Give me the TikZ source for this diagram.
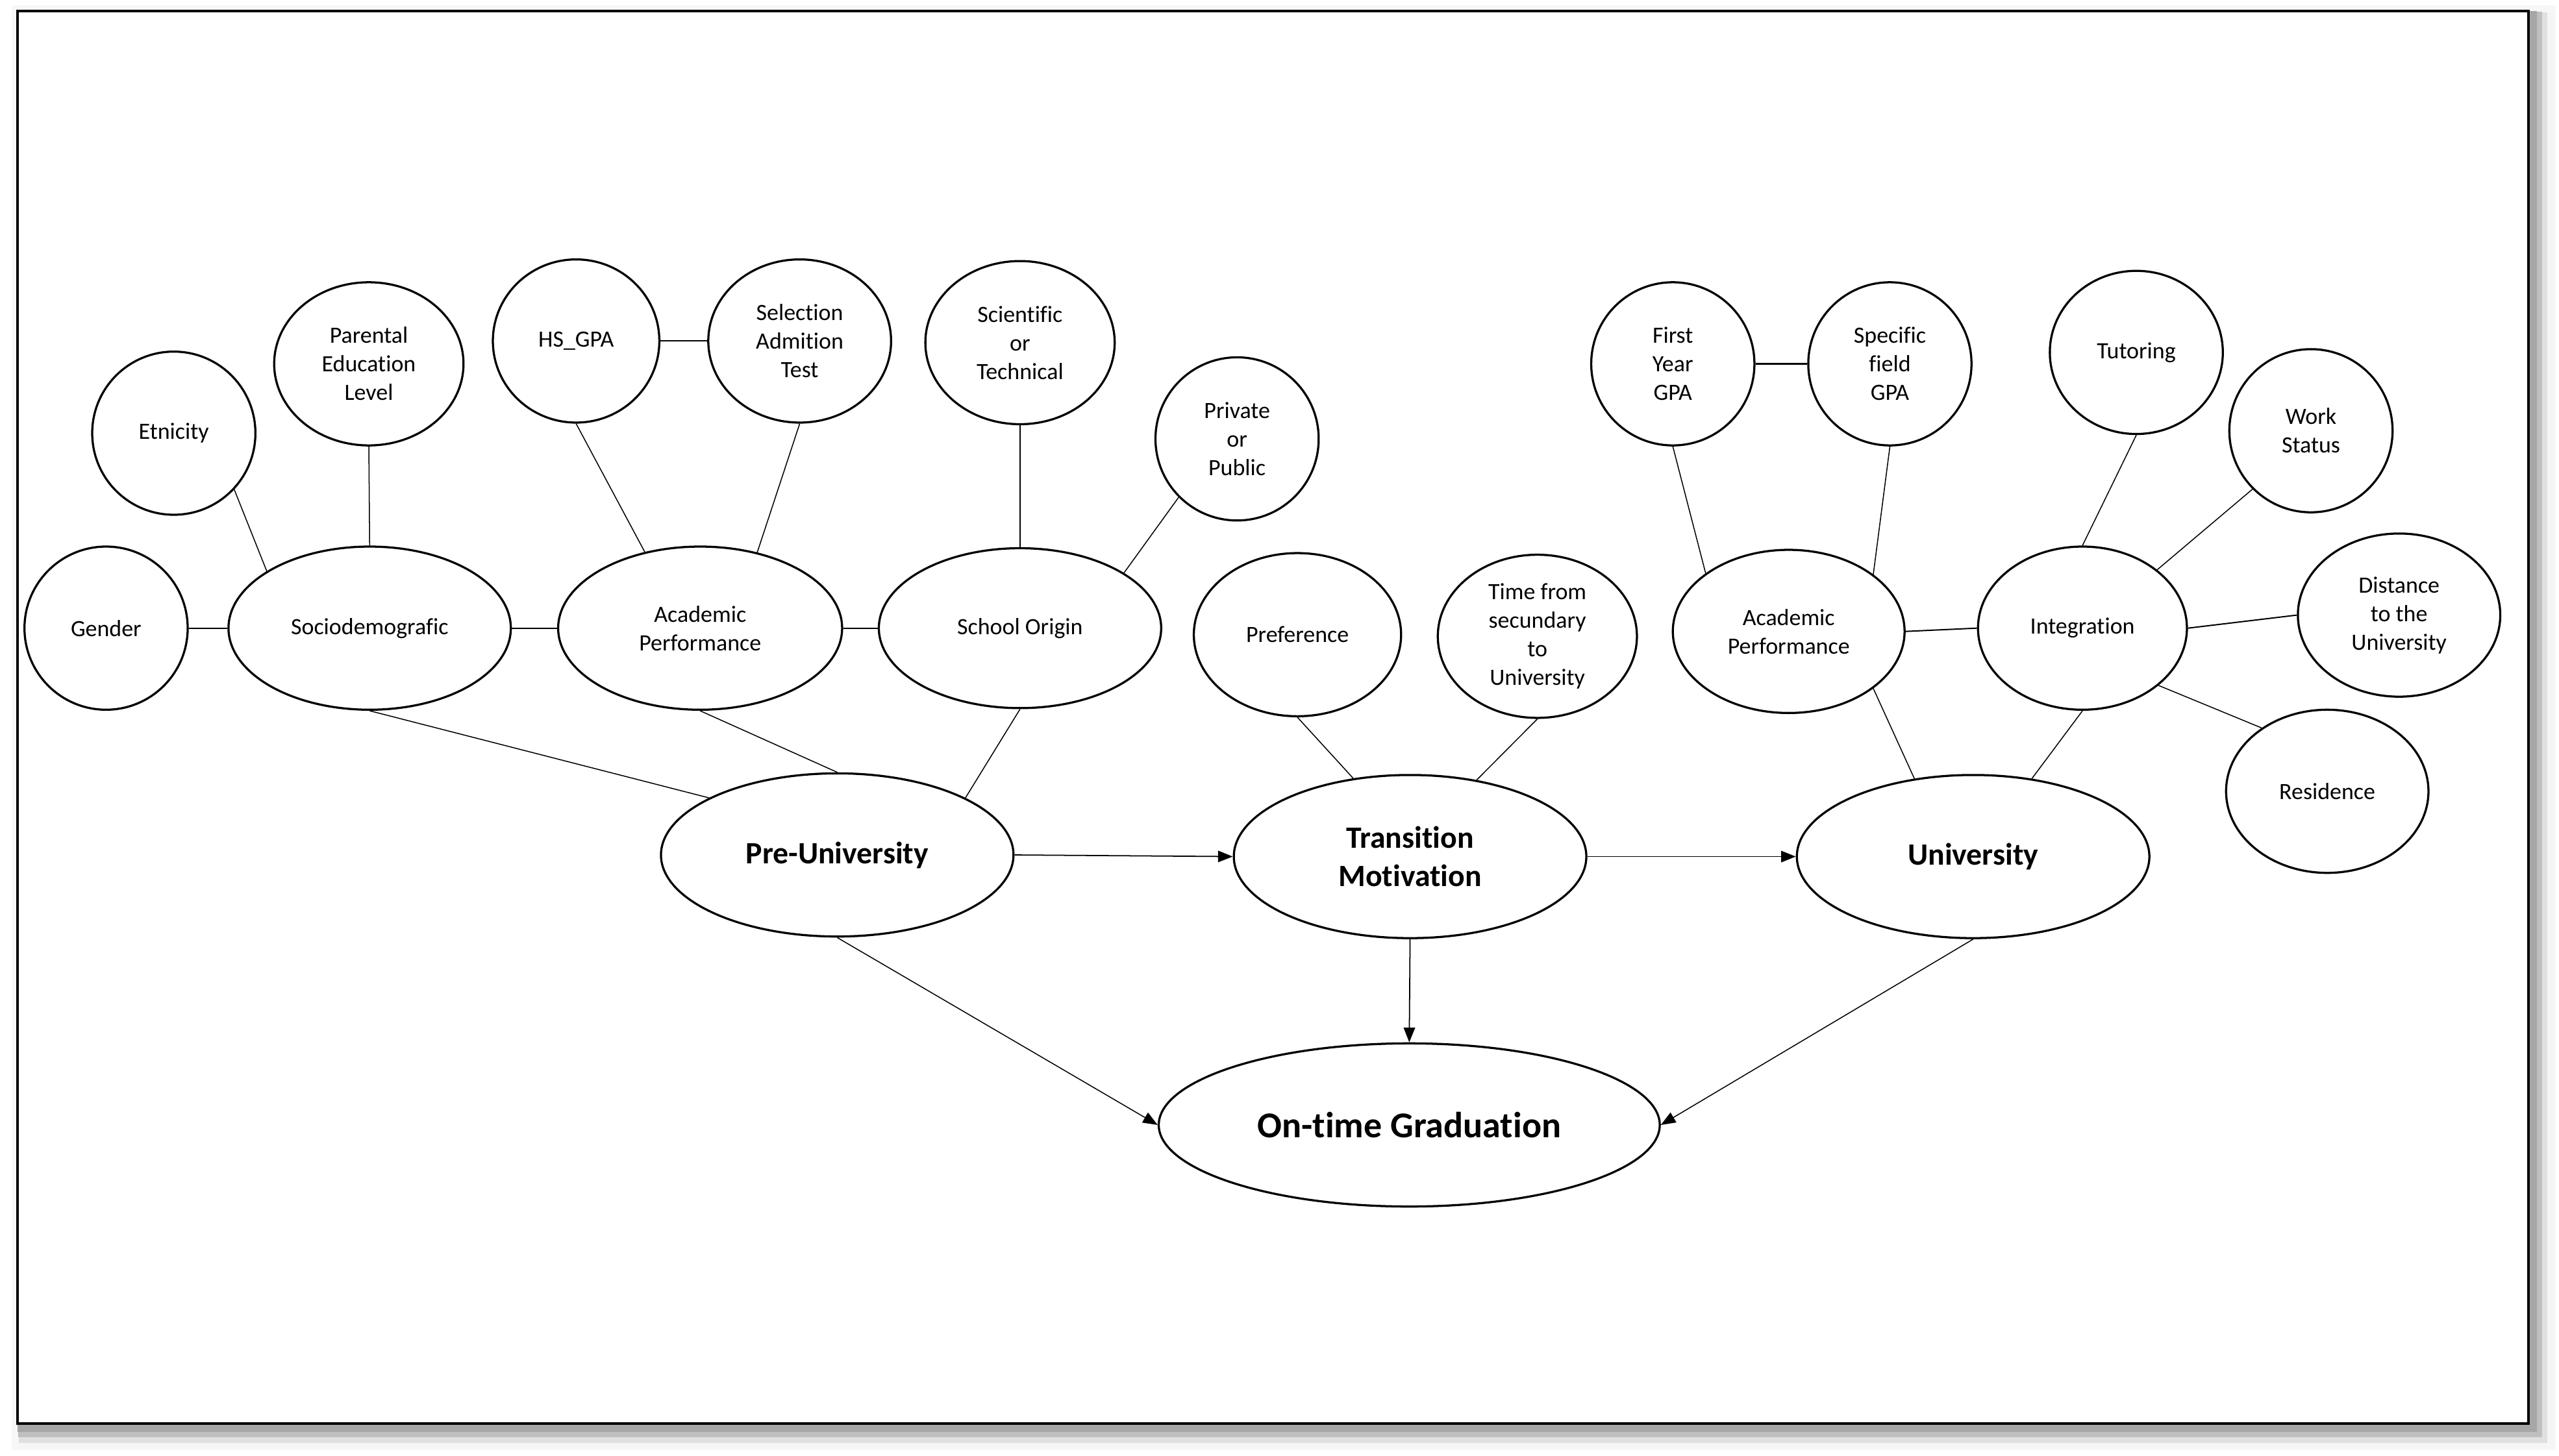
\documentclass[tikz,border=0pt]{standalone}
\usepackage{fontspec}
\setmainfont[Ligatures=NoCommon]{Carlito}
\usetikzlibrary{shapes.geometric,arrows.meta}
\begin{document}
\begin{tikzpicture}[x=1pt,y=-1pt,
  el/.style={ellipse,draw,line width=1.3pt,inner sep=0pt,align=center,fill=white,
     font=\fontsize{14.3}{17.5}\selectfont},
  mid/.style={el,font=\fontsize{19}{23.5}\selectfont\bfseries},
  big/.style={el,font=\fontsize{22.3}{27}\selectfont\bfseries},
  sz/.style 2 args={minimum width=#1pt,minimum height=#2pt},
  ln/.style={line width=0.6pt},
  hln/.style={line width=0.8pt},
  arr/.style={-{Triangle[length=9pt,width=7pt]},line width=0.7pt}]
\useasboundingbox (0,0) rectangle (1568,892.4);
% frame with shadow
\fill[black!3] (7,3) rectangle (1566,889);
\fill[black!4] (12,8) rectangle (1565,888);
\fill[black!12] (11.5,7.5) rectangle (1561,884.5);
\fill[black!25] (11,7) rectangle (1557.7,881);
\fill[black!35] (10.7,6.8) rectangle (1554.5,877.5);
\draw[line width=1.3pt,fill=white] (10.7,6.8) rectangle (1549.3,872.5);

% top row
\node[el,sz={100}{100}] (etn) at (106.5,265.5) {Etnicity};
\node[el,sz={116}{100}] (par) at (226,223) {Parental\\Education\\Level};
\node[el,sz={102}{100}] (hs) at (353,209) {HS\_GPA};
\node[el,sz={112}{100}] (sel) at (490,209) {Selection\\Admition\\Test};
\node[el,sz={116}{100}] (sci) at (625,210) {Scientific\\or\\Technical};
\node[el,sz={100}{100}] (pri) at (758,269) {Private\\or\\Public};
\node[el,sz={100}{100}] (fy) at (1025,223) {First\\Year\\GPA};
\node[el,sz={100}{100}] (sp) at (1158,223) {Specific\\field\\GPA};
\node[el,sz={106}{100}] (tut) at (1309,216) {Tutoring};
\node[el,sz={100}{100}] (work) at (1416,264) {Work\\Status};
\node[el,sz={124}{100}] (dist) at (1470,377) {Distance\\to the\\University};
\node[el,sz={124}{100}] (res) at (1426,485) {Residence};

% second row
\node[el,sz={100}{100}] (gen) at (65,385) {Gender};
\node[el,sz={173}{100}] (soc) at (226.5,385) {Sociodemografic};
\node[el,sz={174}{100}] (acl) at (429,385) {Academic\\Performance};
\node[el,sz={173}{98}] (sch) at (625,385) {School Origin};
\node[el,sz={127}{100}] (pref) at (795,389) {Preference};
\node[el,sz={122}{100}] (time) at (942,390) {Time from\\secundary\\to\\University};
\node[el,sz={142}{100}] (acr) at (1096,387) {Academic\\Performance};
\node[el,sz={128}{100}] (int) at (1276,385) {Integration};

% third row
\node[mid,sz={216}{100}] (pre) at (513,524) {Pre-University};
\node[mid,sz={216}{100}] (tra) at (864,525) {Transition\\Motivation};
\node[mid,sz={216}{100}] (uni) at (1209,525) {University};

% bottom
\node[big,sz={307}{100}] (ont) at (863.5,689.5) {On-time Graduation};

% connectors
\draw[hln] (gen.east) -- (soc.west);
\draw[ln] (etn.-43.5) -- (soc.151);
\draw[ln] (par.south) -- (soc.north);
\draw[hln] (soc.east) -- (acl.west);
\draw[hln] (hs.east) -- (sel.west);
\draw[ln] (hs.south) -- (acl.126.7);
\draw[ln] (sel.south) -- (acl.53.3);
\draw[hln] (acl.east) -- (sch.west);
\draw[ln] (sci.south) -- (sch.north);
\draw[ln] (pri.225) -- (sch.28.4);
\draw[ln] (soc.south) -- (pre.156.1);
\draw[ln] (acl.south) -- (pre.north);
\draw[ln] (sch.south) -- (pre.24.4);
\draw[ln] (pref.south) -- (tra.126.5);
\draw[ln] (time.south) -- (tra.49.7);
\draw[hln] (fy.east) -- (sp.west);
\draw[ln] (fy.south) -- (acr.145);
\draw[ln] (sp.south) -- (acr.34.5);
\draw[hln] (acr.east) -- (int.west);
\draw[ln] (tut.south) -- (int.north);
\draw[ln] (work.225) -- (int.38.5);
\draw[hln] (dist.west) -- (int.east);
\draw[ln] (res.136.5) -- (int.-37.9);
\draw[ln] (acr.-34.5) -- (uni.127.9);
\draw[ln] (int.south) -- (uni.53.5);

% arrows
\draw[arr] (pre.east) -- (tra.west);
\draw[arr] (tra.east) -- (uni.west);
\draw[arr] (tra.south) -- (ont.north);
\draw[arr,line width=0.6pt] (pre.south) -- (ont.west);
\draw[arr,line width=0.6pt] (uni.south) -- (ont.east);
\end{tikzpicture}
\end{document}
